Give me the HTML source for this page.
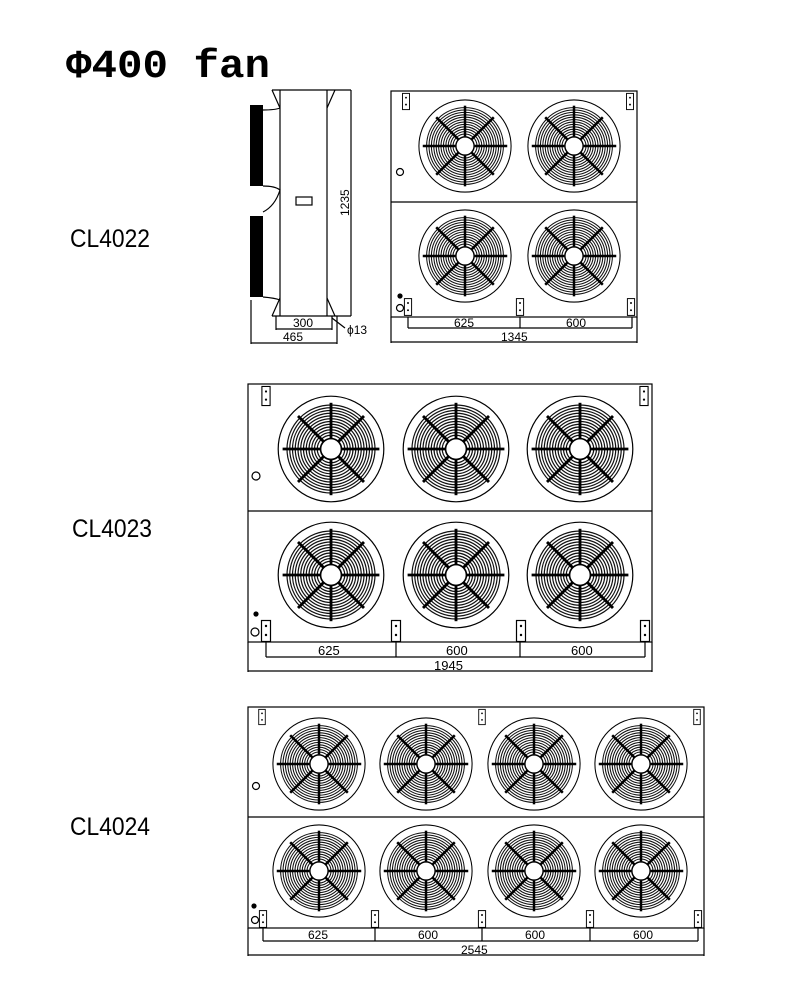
<!DOCTYPE html>
<html><head><meta charset="utf-8"><style>html,body{margin:0;padding:0;background:#fff}svg{display:block}</style></head>
<body>
<svg width="800" height="1000" viewBox="0 0 800 1000" xmlns="http://www.w3.org/2000/svg">
<defs>
<symbol id="fan" viewBox="-50 -50 100 100" overflow="visible">
<circle r="48" fill="#fff" stroke="#000" stroke-width="1.1"/>
<g fill="none" stroke="#111" stroke-width="1.1">
<circle r="40"/><circle r="37.5"/><circle r="35"/><circle r="32.5"/><circle r="30"/><circle r="27.5"/><circle r="25"/><circle r="22.5"/><circle r="20"/><circle r="17.5"/><circle r="15"/><circle r="12.5"/>
</g>
<circle r="9.5" fill="#fff" stroke="#000" stroke-width="1.5"/>
<g stroke="#000" stroke-width="2.6">
<line x1="-44" y1="0" x2="-10" y2="0"/><line x1="10" y1="0" x2="44" y2="0"/>
<line x1="0" y1="-42" x2="0" y2="-10"/><line x1="0" y1="10" x2="0" y2="42"/>
<line x1="-30" y1="-30" x2="-7" y2="-7"/><line x1="30" y1="30" x2="7" y2="7"/>
<line x1="30" y1="-30" x2="7" y2="-7"/><line x1="-30" y1="30" x2="-7" y2="7"/>
</g>
</symbol>
<symbol id="foot" viewBox="0 0 10 22" overflow="visible">
<rect x="0.5" y="0.5" width="9" height="21" fill="#fff" stroke="#000" stroke-width="1.2"/>
<circle cx="5" cy="6" r="1.2"/><circle cx="5" cy="15" r="1.2"/>
</symbol>
</defs>

<text x="66" y="77" font-family="Liberation Mono, monospace" font-weight="bold" font-size="40" textLength="204" lengthAdjust="spacingAndGlyphs">Φ400 fan</text>

<g font-family="Liberation Sans, sans-serif" font-size="25">
<text x="70" y="247" textLength="80" lengthAdjust="spacingAndGlyphs">CL4022</text>
<text x="72" y="537" textLength="80" lengthAdjust="spacingAndGlyphs">CL4023</text>
<text x="70" y="835" textLength="80" lengthAdjust="spacingAndGlyphs">CL4024</text>
</g>

<g fill="none" stroke="#000" stroke-width="1.2">
<line x1="272" y1="90" x2="351" y2="90"/>
<line x1="280" y1="90" x2="280" y2="316"/>
<line x1="327" y1="90" x2="327" y2="316"/>
<line x1="351" y1="90" x2="351" y2="316"/>
<line x1="272" y1="316" x2="351" y2="316"/>
<path d="M272 90 L280 108 M335 90 L327 108 M272 316 L280 298 M335 316 L327 298"/>
<rect x="296" y="197" width="16" height="8"/>
<path d="M263 110 Q275 110 280 108 M263 186 Q275 186 280 190 Q275 206 263 212 M263 297 Q275 298 280 300"/>
<line x1="276" y1="316" x2="276" y2="330"/><line x1="332" y1="316" x2="332" y2="330"/>
<line x1="276" y1="329" x2="332" y2="329"/>
<line x1="251" y1="300" x2="251" y2="344"/><line x1="337" y1="316" x2="337" y2="344"/>
<line x1="251" y1="343" x2="337" y2="343"/>
<path d="M332 318 L345 328"/>
</g>
<rect x="250" y="105" width="13" height="81" fill="#000"/>
<rect x="250" y="216" width="13" height="81" fill="#000"/>
<g font-family="Liberation Sans, sans-serif" font-size="12">
<text x="293" y="327">300</text>
<text x="283" y="341">465</text>
<text x="347" y="334">ϕ13</text>
<text transform="translate(349,216) rotate(-90)">1235</text>
</g>

<!-- CL4022 -->
<g fill="none" stroke="#000" stroke-width="1.2">
<rect x="391" y="91" width="246" height="226"/>
<line x1="391" y1="202" x2="637" y2="202"/>
<line x1="391" y1="317" x2="391" y2="343"/><line x1="637" y1="317" x2="637" y2="343"/>
<line x1="391" y1="342" x2="637" y2="342"/>
<line x1="408" y1="317" x2="408" y2="328"/><line x1="520" y1="317" x2="520" y2="328"/><line x1="632" y1="317" x2="632" y2="328"/>
<line x1="408" y1="328" x2="632" y2="328"/>
<circle cx="400" cy="172" r="3.5"/><circle cx="400" cy="308" r="3.5"/><circle cx="400" cy="296" r="2" fill="#000"/>
</g>
<use href="#fan" x="417" y="98" width="96" height="96"/>
<use href="#fan" x="526" y="98" width="96" height="96"/>
<use href="#fan" x="417" y="208" width="96" height="96"/>
<use href="#fan" x="526" y="208" width="96" height="96"/>
<use href="#foot" x="402" y="93" width="8" height="17"/>
<use href="#foot" x="626" y="93" width="8" height="17"/>
<use href="#foot" x="404" y="297" width="8" height="20"/>
<use href="#foot" x="516" y="297" width="8" height="20"/>
<use href="#foot" x="627" y="297" width="8" height="20"/>
<g font-family="Liberation Sans, sans-serif" font-size="12">
<text x="454" y="327">625</text><text x="566" y="327">600</text><text x="501" y="341">1345</text>
</g>

<!-- CL4023 -->
<g fill="none" stroke="#000" stroke-width="1.2">
<rect x="248" y="384" width="404" height="258"/>
<line x1="248" y1="511" x2="652" y2="511"/>
<line x1="248" y1="642" x2="248" y2="672"/><line x1="652" y1="642" x2="652" y2="672"/>
<line x1="248" y1="671" x2="652" y2="671"/>
<line x1="266" y1="642" x2="266" y2="657"/><line x1="396" y1="642" x2="396" y2="657"/><line x1="520" y1="642" x2="520" y2="657"/><line x1="645" y1="642" x2="645" y2="657"/>
<line x1="266" y1="657" x2="645" y2="657"/>
<circle cx="256" cy="476" r="4"/><circle cx="255" cy="632" r="4"/><circle cx="256" cy="614" r="2" fill="#000"/>
</g>
<use href="#fan" x="276" y="394" width="110" height="110"/>
<use href="#fan" x="401" y="394" width="110" height="110"/>
<use href="#fan" x="525" y="394" width="110" height="110"/>
<use href="#fan" x="276" y="520" width="110" height="110"/>
<use href="#fan" x="401" y="520" width="110" height="110"/>
<use href="#fan" x="525" y="520" width="110" height="110"/>
<use href="#foot" x="261" y="386" width="10" height="20"/>
<use href="#foot" x="639" y="386" width="10" height="20"/>
<use href="#foot" x="261" y="620" width="10" height="22"/>
<use href="#foot" x="391" y="620" width="10" height="22"/>
<use href="#foot" x="516" y="620" width="10" height="22"/>
<use href="#foot" x="640" y="620" width="10" height="22"/>
<g font-family="Liberation Sans, sans-serif" font-size="13">
<text x="318" y="655">625</text><text x="446" y="655">600</text><text x="571" y="655">600</text><text x="434" y="670">1945</text>
</g>

<!-- CL4024 -->
<g fill="none" stroke="#000" stroke-width="1.2">
<rect x="248" y="707" width="456" height="221"/>
<line x1="248" y1="817" x2="704" y2="817"/>
<line x1="248" y1="928" x2="248" y2="956"/><line x1="704" y1="928" x2="704" y2="956"/>
<line x1="248" y1="955" x2="704" y2="955"/>
<line x1="263" y1="928" x2="263" y2="941"/><line x1="375" y1="928" x2="375" y2="941"/><line x1="482" y1="928" x2="482" y2="941"/><line x1="590" y1="928" x2="590" y2="941"/><line x1="698" y1="928" x2="698" y2="941"/>
<line x1="263" y1="941" x2="698" y2="941"/>
<circle cx="256" cy="786" r="3.5"/><circle cx="255" cy="920" r="3.5"/><circle cx="254" cy="906" r="2" fill="#000"/>
</g>
<use href="#fan" x="271" y="716" width="96" height="96"/>
<use href="#fan" x="378" y="716" width="96" height="96"/>
<use href="#fan" x="486" y="716" width="96" height="96"/>
<use href="#fan" x="593" y="716" width="96" height="96"/>
<use href="#fan" x="271" y="823" width="96" height="96"/>
<use href="#fan" x="378" y="823" width="96" height="96"/>
<use href="#fan" x="486" y="823" width="96" height="96"/>
<use href="#fan" x="593" y="823" width="96" height="96"/>
<use href="#foot" x="258" y="709" width="8" height="16"/>
<use href="#foot" x="478" y="709" width="8" height="16"/>
<use href="#foot" x="693" y="709" width="8" height="16"/>
<use href="#foot" x="259" y="910" width="8" height="18"/>
<use href="#foot" x="371" y="910" width="8" height="18"/>
<use href="#foot" x="478" y="910" width="8" height="18"/>
<use href="#foot" x="586" y="910" width="8" height="18"/>
<use href="#foot" x="694" y="910" width="8" height="18"/>
<g font-family="Liberation Sans, sans-serif" font-size="12">
<text x="308" y="939">625</text><text x="418" y="939">600</text><text x="525" y="939">600</text><text x="633" y="939">600</text><text x="461" y="954">2545</text>
</g>
</svg>
</body></html>
